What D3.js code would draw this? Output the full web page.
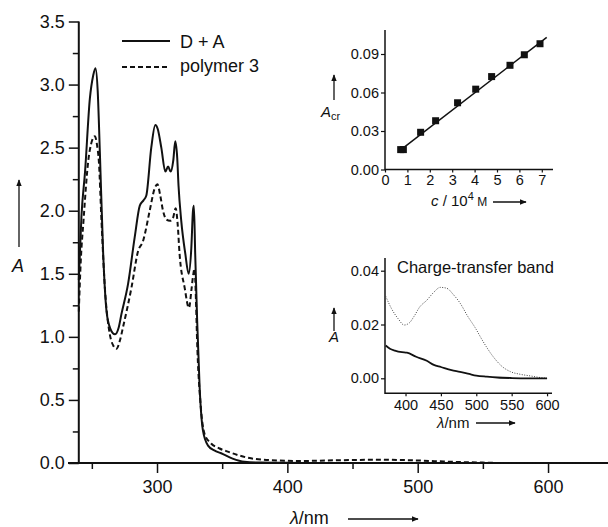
<!DOCTYPE html>
<html>
<head>
<meta charset="utf-8">
<script src="https://cdn.jsdelivr.net/npm/d3@7"></script>
<style>
  body { margin: 0; background: #fff; }
  svg { font-family: "Liberation Sans", Arial, sans-serif; }
</style>
</head>
<body>
<div id="chart"></div>
<script>
// main spectrum: D + A (solid line)
const daWl = [240, 242, 244.8, 248.5, 251, 252.8, 254.5, 256.2, 258.7, 261.2, 264, 267.8, 270.5, 272.7, 277.8, 282.9,
  286.8, 289.5, 291.8, 295.6, 298.7, 300.5, 303.3, 306.4, 308.5, 310.5, 312.5, 314, 315.5, 316.5, 318.6, 321.7,
  324.3, 326.3, 327.6, 328.3, 329.3, 330.8, 332.7, 335.2, 339, 344, 349.2, 358, 367, 380, 400, 645];
const daAbs = [1.45, 1.95, 2.31, 2.89, 3.07, 3.13, 2.95, 2.45, 1.66, 1.21, 1.07, 1.02, 1.07, 1.18, 1.42, 1.79,
  2.04, 2.08, 2.12, 2.50, 2.68, 2.65, 2.50, 2.31, 2.35, 2.31, 2.40, 2.55, 2.42, 2.20, 1.92, 1.66,
  1.50, 1.70, 2.00, 2.04, 1.66, 1.13, 0.60, 0.26, 0.14, 0.10, 0.077, 0.035, 0.01, 0.003, 0.001, 0];

// main spectrum: polymer 3 (dashed line)
const polyWl = [240, 241.5, 243.6, 247.2, 250, 252.3, 254, 255.4, 257.4, 260, 263.8, 266.5, 268.9, 271.5, 274, 280.4,
  285.5, 289.3, 294.4, 298, 300.3, 302.5, 304.6, 307.2, 310, 312.2, 314.3, 315.8, 317.3, 321.2, 324.5, 326.5,
  327.5, 328.8, 330, 330.7, 333.4, 336.5, 341.5, 348, 354.3, 363, 372.1, 392, 410, 440, 470, 500, 520, 550, 570, 645];
const polyAbs = [1.2, 1.6, 1.92, 2.39, 2.55, 2.59, 2.52, 2.39, 1.92, 1.39, 1.02, 0.93, 0.905, 0.97, 1.08, 1.39,
  1.68, 1.76, 2.0, 2.17, 2.21, 2.12, 2.0, 1.93, 1.92, 1.94, 2.02, 1.90, 1.66, 1.39, 1.23, 1.38,
  1.47, 1.54, 1.25, 0.99, 0.47, 0.23, 0.155, 0.115, 0.09, 0.06, 0.037, 0.02, 0.016, 0.022, 0.026, 0.02, 0.012, 0.003, 0, 0];

const mainXTicks = [300, 400, 500, 600];
const mainXMinor = [250, 350, 450, 550];
const mainYTicks = [0, 0.5, 1.0, 1.5, 2.0, 2.5, 3.0, 3.5];
const mainYMinor = [0.25, 0.75, 1.25, 1.75, 2.25, 2.75, 3.25];
const legendLabels = ["D + A", "polymer 3"];

// inset 1: A_cr vs concentration
const concVals = [0.70, 0.82, 1.59, 2.26, 3.24, 4.05, 4.76, 5.58, 6.22, 6.92];
const acrVals = [0.0155, 0.0155, 0.029, 0.038, 0.052, 0.0626, 0.0724, 0.0812, 0.0894, 0.098];
const fitConc = [0.6, 7.22];
const fitAcr = [0.014, 0.103];
const concTicks = [0, 1, 2, 3, 4, 5, 6, 7];
const acrTicks = [0, 0.03, 0.06, 0.09];

// inset 2: charge-transfer band
const ctDotWl = [372, 380, 390, 398, 405, 412, 420, 430, 440, 449, 458, 468, 477, 488, 498, 510, 524, 536, 548, 562, 576, 590, 600];
const ctDotAbs = [0.0305, 0.026, 0.022, 0.0198, 0.0205, 0.023, 0.0265, 0.029, 0.032, 0.0338, 0.0335, 0.031, 0.028, 0.023,
  0.019, 0.0135, 0.008, 0.0045, 0.0025, 0.0015, 0.0009, 0.0003, 0];
const ctSolidWl = [372, 378, 385, 395, 402, 415, 430, 440, 450, 465, 477, 490, 500, 515, 530, 550, 575, 600];
const ctSolidAbs = [0.0122, 0.011, 0.0103, 0.0097, 0.0095, 0.008, 0.0065, 0.005, 0.0042, 0.003, 0.0024, 0.0016, 0.001,
  0.0006, 0.0003, 0.0001, 0, 0];
const ctXTicks = [400, 450, 500, 550, 600];
const ctYTicks = [0, 0.02, 0.04];

const width = 608, height = 527;
const svg = d3.select("#chart").append("svg")
  .attr("width", width)
  .attr("height", height);

// arrow head
svg.append("defs").append("marker")
  .attr("id", "arrow")
  .attr("viewBox", "0 0 10 10")
  .attr("refX", 9).attr("refY", 5)
  .attr("markerWidth", 7).attr("markerHeight", 7)
  .attr("markerUnits", "userSpaceOnUse")
  .attr("orient", "auto")
  .append("path")
  .attr("d", "M0,1 L10,5 L0,9 Z")
  .attr("fill", "#111");

function arrow(x1, y1, x2, y2) {
  svg.append("line")
    .attr("x1", x1).attr("y1", y1).attr("x2", x2).attr("y2", y2)
    .attr("stroke", "#111").attr("stroke-width", 1.3)
    .attr("marker-end", "url(#arrow)");
}

function styleAxis(g, fontSize, sw) {
  g.select(".domain").remove();
  g.selectAll("line").attr("stroke", "#111").attr("stroke-width", sw);
  g.selectAll("text").attr("fill", "#111").style("font-size", fontSize + "px");
}

// ---------- main chart ----------
const x = d3.scaleLinear().domain([240, 646]).range([78.8, 608]);
const y = d3.scaleLinear().domain([0, 3.5]).range([463, 21.5]);

svg.append("g").attr("transform", "translate(78.8,0)")
  .call(d3.axisLeft(y).tickValues(mainYMinor).tickSize(6).tickFormat(""))
  .call(g => styleAxis(g, 18, 1.5));
svg.append("g").attr("transform", "translate(78.8,0)")
  .call(d3.axisLeft(y).tickValues(mainYTicks).tickSize(10).tickPadding(4).tickFormat(d3.format(".1f")))
  .call(g => styleAxis(g, 18, 1.5));
svg.append("g").attr("transform", "translate(0,463)")
  .call(d3.axisBottom(x).tickValues(mainXMinor).tickSize(6).tickFormat(""))
  .call(g => styleAxis(g, 18, 1.5));
svg.append("g").attr("transform", "translate(0,463)")
  .call(d3.axisBottom(x).tickValues(mainXTicks).tickSize(10).tickPadding(7).tickFormat(d3.format("d")))
  .call(g => styleAxis(g, 18, 1.5));

svg.append("line").attr("x1", 78.8).attr("x2", 78.8).attr("y1", y(3.5)).attr("y2", 464)
  .attr("stroke", "#111").attr("stroke-width", 2);
svg.append("line").attr("x1", 68).attr("x2", 608).attr("y1", 463).attr("y2", 463)
  .attr("stroke", "#111").attr("stroke-width", 2);

const mainLine = d3.line().curve(d3.curveMonotoneX);
svg.append("path")
  .datum(d3.zip(daWl, daAbs).map(d => [x(d[0]), y(d[1])]))
  .attr("fill", "none").attr("stroke", "#111").attr("stroke-width", 2)
  .attr("d", mainLine);
svg.append("path")
  .datum(d3.zip(polyWl, polyAbs).map(d => [x(d[0]), y(d[1])]))
  .attr("fill", "none").attr("stroke", "#111").attr("stroke-width", 2)
  .attr("stroke-dasharray", "5,3")
  .attr("d", mainLine);

// legend
const legend = svg.append("g").style("font-size", "18px").attr("fill", "#111");
legendLabels.forEach((lab, i) => {
  legend.append("line")
    .attr("x1", 122).attr("x2", 170)
    .attr("y1", 41 + i * 26).attr("y2", 41 + i * 26)
    .attr("stroke", "#111").attr("stroke-width", 2)
    .attr("stroke-dasharray", i ? "5,3" : null);
  legend.append("text").attr("x", 180).attr("y", 48 + i * 24).text(lab);
});

// axis titles
const xt = svg.append("text").attr("x", 290).attr("y", 524).style("font-size", "18px").attr("fill", "#111");
xt.append("tspan").style("font-style", "italic").text("λ");
xt.append("tspan").text("/nm");
arrow(348, 519, 418, 519);

svg.append("text").attr("x", 12).attr("y", 272).style("font-size", "18px").style("font-style", "italic")
  .attr("fill", "#111").text("A");
arrow(19, 247, 19, 180);

// ---------- inset 1 ----------
const cx = d3.scaleLinear().domain([0, 7.5]).range([385, 553]);
const cy = d3.scaleLinear().domain([0, 0.09]).range([169.5, 54]);

svg.append("g").attr("transform", "translate(385,0)")
  .call(d3.axisLeft(cy).tickValues(acrTicks).tickSize(4).tickPadding(2).tickFormat(d3.format(".2f")))
  .call(g => styleAxis(g, 14.5, 1.2));
svg.append("g").attr("transform", "translate(0,169.5)")
  .call(d3.axisBottom(cx).tickValues(concTicks).tickSize(3).tickPadding(2).tickFormat(d3.format("d")))
  .call(g => styleAxis(g, 14.5, 1.2));
svg.append("line").attr("x1", 385).attr("x2", 385).attr("y1", 30).attr("y2", 170)
  .attr("stroke", "#111").attr("stroke-width", 1.5);
svg.append("line").attr("x1", 385).attr("x2", 553).attr("y1", 169.5).attr("y2", 169.5)
  .attr("stroke", "#111").attr("stroke-width", 1.5);

svg.append("line")
  .attr("x1", cx(fitConc[0])).attr("y1", cy(fitAcr[0]))
  .attr("x2", cx(fitConc[1])).attr("y2", cy(fitAcr[1]))
  .attr("stroke", "#111").attr("stroke-width", 1.5);
svg.selectAll("rect.pt")
  .data(d3.zip(concVals, acrVals))
  .join("rect")
  .attr("class", "pt")
  .attr("x", d => cx(d[0]) - 3.5).attr("y", d => cy(d[1]) - 3.5)
  .attr("width", 7).attr("height", 7)
  .attr("fill", "#111");

const ct1 = svg.append("text").attr("x", 431).attr("y", 206).style("font-size", "15px").attr("fill", "#111");
ct1.append("tspan").style("font-style", "italic").text("c");
ct1.append("tspan").text(" / 10");
ct1.append("tspan").attr("dy", -6).style("font-size", "11px").text("4");
ct1.append("tspan").attr("dy", 6).style("font-size", "12px").text(" M");
arrow(493, 202, 526, 202);

const acr = svg.append("text").attr("x", 321).attr("y", 117).style("font-size", "15px").attr("fill", "#111");
acr.append("tspan").style("font-style", "italic").text("A");
acr.append("tspan").attr("dy", 3).style("font-size", "11px").text("cr");
arrow(334, 100, 334, 75);

// ---------- inset 2 ----------
const tx = d3.scaleLinear().domain([371, 607]).range([385, 552]);
const ty = d3.scaleLinear().domain([0, 0.04]).range([378.3, 270.7]);

svg.append("g").attr("transform", "translate(385,0)")
  .call(d3.axisLeft(ty).tickValues(ctYTicks).tickSize(4).tickPadding(2).tickFormat(d3.format(".2f")))
  .call(g => styleAxis(g, 14.5, 1.2));
svg.append("g").attr("transform", "translate(0,393.3)")
  .call(d3.axisBottom(tx).tickValues(ctXTicks).tickSize(3).tickPadding(3).tickFormat(d3.format("d")))
  .call(g => styleAxis(g, 14.5, 1.2));
svg.append("line").attr("x1", 385).attr("x2", 385).attr("y1", 258).attr("y2", 394)
  .attr("stroke", "#111").attr("stroke-width", 1.5);
svg.append("line").attr("x1", 385).attr("x2", 552).attr("y1", 393.3).attr("y2", 393.3)
  .attr("stroke", "#111").attr("stroke-width", 1.5);

const ctLine = d3.line().curve(d3.curveMonotoneX);
svg.append("path")
  .datum(d3.zip(ctDotWl, ctDotAbs).map(d => [tx(d[0]), ty(d[1])]))
  .attr("fill", "none").attr("stroke", "#444").attr("stroke-width", 1)
  .attr("stroke-dasharray", "1,1.5")
  .attr("d", ctLine);
svg.append("path")
  .datum(d3.zip(ctSolidWl, ctSolidAbs).map(d => [tx(d[0]), ty(d[1])]))
  .attr("fill", "none").attr("stroke", "#111").attr("stroke-width", 1.8)
  .attr("d", ctLine);

svg.append("text").attr("x", 397).attr("y", 273).style("font-size", "16.5px").attr("fill", "#111")
  .text("Charge-transfer band");

const ct2 = svg.append("text").attr("x", 437).attr("y", 428).style("font-size", "15px").attr("fill", "#111");
ct2.append("tspan").style("font-style", "italic").text("λ");
ct2.append("tspan").text("/nm");
arrow(476, 423, 515, 423);

svg.append("text").attr("x", 329).attr("y", 342).style("font-size", "15px").style("font-style", "italic")
  .attr("fill", "#111").text("A");
arrow(334, 331, 334, 308);
</script>
</body>
</html>
